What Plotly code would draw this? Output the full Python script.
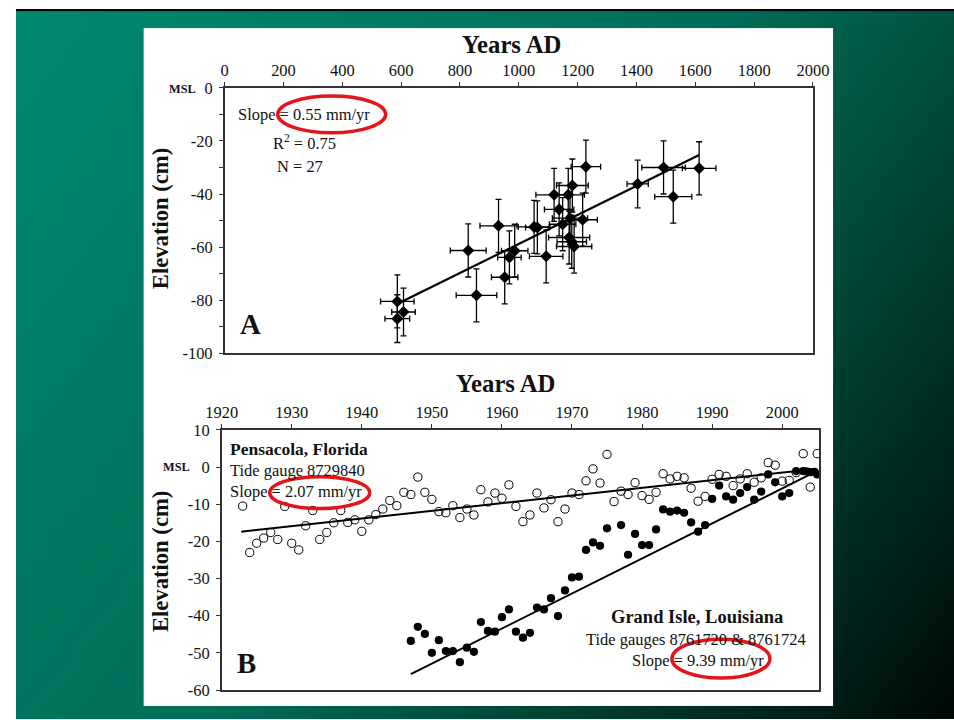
import base64
import plotly.graph_objects as go

# The capture maps figure pixels to the 954x720 picture roughly as
#   X = (16 + x_fig) * 0.9665 ,  Y = (8 + y_fig) * 0.977
# so the layout below is expressed in picture pixels and converted.
SX, SY = 0.9665, 0.977
OX, OY = 16, 8
FW, FH = 971, 729
K = 1 / 0.972  # size compensation for fonts / markers

# ---------------- Panel A data (Years AD vs elevation, cm) ----------------
a_year = [587, 587, 608, 828, 856, 931, 952, 968, 986, 1052, 1063, 1093, 1120, 1137,
          1149, 1168, 1182, 1174, 1171, 1188, 1180, 1217, 1228, 1404, 1492, 1525, 1613]
a_elev = [-80.5, -87.0, -84.5, -61.3, -78.2, -52.0, -71.4, -63.9, -61.4, -52.4, -52.6,
          -63.5, -40.3, -45.8, -51.4, -40.3, -36.8, -49.1, -56.4, -59.8, -58.0, -49.7,
          -29.7, -36.2, -30.0, -41.0, -30.3]
a_xerr = [57, 42, 40, 61, 69, 63, 45, 40, 45, 54, 40, 57, 62, 50, 45, 55, 54, 60, 70,
          60, 50, 50, 50, 36, 74, 63, 57]
a_yerr = [10, 9, 9, 10, 10, 10, 10, 10, 10, 10, 10, 10, 10, 10, 10, 10, 10, 10, 10, 10,
          10, 10, 10, 9, 10, 10, 10]
a_fit_x = [593, 1613]
a_fit_y = [-81.1, -25.3]

a_xticks = [0, 200, 400, 600, 800, 1000, 1200, 1400, 1600, 1800, 2000]
a_yticks = [0, -20, -40, -60, -80, -100]
a_ytext = ["0", "-20", "-40", "-60", "-80", "-100"]

# ---------------- Panel B data ----------------
pen_year = list(range(1923, 2006))
pen_elev = [-10.5, -23.0, -20.5, -19.1, -17.6, -19.5, -10.6, -20.5, -22.3, -15.8,
            -11.7, -19.5, -17.6, -15.0, -11.7, -14.9, -14.2, -17.3, -14.2, -12.8,
            -11.3, -9.0, -10.4, -6.8, -7.4, -2.7, -6.8, -8.7, -12.0, -12.3,
            -10.4, -13.6, -11.3, -12.9, -6.1, -9.4, -7.0, -8.4, -4.8, -10.6,
            -14.7, -12.9, -7.0, -11.0, -8.8, -14.7, -11.3, -7.0, -7.4, -3.7,
            -0.5, -4.3, 3.4, -9.3, -6.5, -7.4, -4.2, -7.7, -8.7, -6.8,
            -1.8, -3.2, -2.5, -2.9, -5.7, -9.2, -7.9, -3.3, -2.0, -2.5,
            -5.0, -3.2, -1.8, -4.1, -2.9, 1.2, 0.5, -3.8, -3.6, -1.5,
            3.6, -5.4, 3.6]
pen_fit_x = [1922.8, 2004.8]
pen_fit_y = [-17.4, -0.5]

gi_year = [1947, 1948, 1949, 1950, 1951, 1952, 1953, 1954, 1955, 1956, 1957, 1958,
           1959, 1960, 1961, 1962, 1963, 1964, 1965, 1966, 1967, 1968, 1969, 1970,
           1971, 1972, 1973, 1974, 1975, 1977, 1978, 1979, 1980, 1981, 1982, 1983,
           1984, 1985, 1986, 1987, 1988, 1989, 1990, 1991, 1992, 1993, 1994, 1995,
           1996, 1997, 1998, 1999, 2000, 2001, 2002, 2003, 2003.5, 2004, 2004.6, 2005]
gi_elev = [-46.8, -43.0, -44.9, -50.0, -46.6, -49.5, -49.5, -52.5, -48.6, -49.7, -41.7,
           -44.1, -44.3, -40.4, -38.3, -44.3, -45.9, -44.6, -37.8, -38.3, -35.3, -40.1,
           -33.2, -29.7, -29.5, -22.3, -20.3, -21.2, -16.5, -15.6, -23.6, -18.0, -21.0,
           -21.0, -16.8, -11.4, -12.0, -11.7, -12.3, -14.9, -17.4, -15.6, -8.6, -5.0,
           -7.9, -8.8, -7.0, -5.4, -8.8, -6.6, -2.0, -4.1, -7.9, -7.0, -1.1, -1.1,
           -1.2, -1.4, -1.3, -2.0]
gi_fit_x = [1947.0, 2004.2]
gi_fit_y = [-55.7, -1.8]

b_xticks = [1920, 1930, 1940, 1950, 1960, 1970, 1980, 1990, 2000]
b_yticks = [10, 0, -10, -20, -30, -40, -50, -60]
b_ytext = ["10", "0", "-10", "-20", "-30", "-40", "-50", "-60"]

SERIF = "Liberation Serif, Times New Roman, serif"
INK = "#111111"
RED = "#E5141B"


def fx(X):
    return X / SX - OX


def fy(Y):
    return Y / SY - OY


def px(X):
    return fx(X) / FW


def py(Y):
    return 1 - fy(Y) / FH


fig = go.Figure()

# Panel A
fig.add_trace(go.Scatter(
    x=a_year, y=a_elev, mode="markers", xaxis="x", yaxis="y",
    marker=dict(symbol="diamond", size=9 * K, color="black"),
    error_x=dict(type="data", array=a_xerr, color="black", thickness=1.3, width=3),
    error_y=dict(type="data", array=a_yerr, color="black", thickness=1.3, width=3),
    showlegend=False, hoverinfo="x+y"))
fig.add_trace(go.Scatter(
    x=a_fit_x, y=a_fit_y, mode="lines", xaxis="x", yaxis="y",
    line=dict(color="black", width=2.2), showlegend=False, hoverinfo="skip"))

# Panel B
fig.add_trace(go.Scatter(
    x=pen_fit_x, y=pen_fit_y, mode="lines", xaxis="x2", yaxis="y2",
    line=dict(color="black", width=2), showlegend=False, hoverinfo="skip"))
fig.add_trace(go.Scatter(
    x=gi_fit_x, y=gi_fit_y, mode="lines", xaxis="x2", yaxis="y2",
    line=dict(color="black", width=2), showlegend=False, hoverinfo="skip"))
fig.add_trace(go.Scatter(
    x=pen_year, y=pen_elev, mode="markers", xaxis="x2", yaxis="y2",
    marker=dict(symbol="circle-open", size=8 * K, color="black", line=dict(width=1)),
    showlegend=False, name="Pensacola"))
fig.add_trace(go.Scatter(
    x=gi_year, y=gi_elev, mode="markers", xaxis="x2", yaxis="y2",
    marker=dict(symbol="circle", size=8 * K, color="black"),
    showlegend=False, name="Grand Isle"))

axis_common = dict(showgrid=False, zeroline=False, showline=True, mirror=True,
                   linecolor="#333333", linewidth=1.5, ticks="outside", ticklen=4,
                   tickcolor="#333333", tickwidth=1.2,
                   tickfont=dict(family=SERIF, size=16 * K, color=INK))

fig.update_layout(
    width=FW, height=FH,
    margin=dict(l=0, r=0, t=0, b=0),
    paper_bgcolor="white", plot_bgcolor="rgba(0,0,0,0)",
    xaxis=dict(domain=[px(224), px(812)], range=[0, 2000], side="top", anchor="y",
               tickvals=a_xticks, **axis_common),
    yaxis=dict(domain=[py(353), py(87)], range=[-100, 0], anchor="x",
               tickvals=a_yticks, ticktext=a_ytext, ticklabelstandoff=3,
               minor=dict(dtick=10, ticks="outside", ticklen=4, tickcolor="#333333"),
               **axis_common),
    xaxis2=dict(domain=[px(221), px(818)], range=[1920, 2005.25], side="top",
                anchor="y2", tickvals=b_xticks, **axis_common),
    yaxis2=dict(domain=[py(691), py(430)], range=[-60, 10], anchor="x2",
                tickvals=b_yticks, ticktext=b_ytext, ticklabelstandoff=3,
                **axis_common),
)

# Slide background (gradient, top frame line, white inset) as an SVG image
gx1, gy1, gx2, gy2 = fx(0), fy(0), fx(954), fy(720)
ix0, iy0, ix1, iy1 = fx(143), fy(27), fx(832), fy(707)
svg = f'''<svg xmlns="http://www.w3.org/2000/svg" width="{FW}" height="{FH}" viewBox="0 0 {FW} {FH}" preserveAspectRatio="none">
<defs><linearGradient id="g" gradientUnits="userSpaceOnUse" x1="{gx1:.1f}" y1="{gy1:.1f}" x2="{gx2:.1f}" y2="{gy2:.1f}">
<stop offset="0" stop-color="#008A70"/>
<stop offset="0.5" stop-color="#006D58"/>
<stop offset="0.75" stop-color="#003E30"/>
<stop offset="1" stop-color="#000806"/>
</linearGradient></defs>
<rect width="{FW}" height="{FH}" fill="url(#g)"/>
<rect x="0" y="0" width="{FW}" height="{fy(10):.1f}" fill="#050505"/>
<rect x="{ix0:.1f}" y="{iy0:.1f}" width="{ix1 - ix0:.1f}" height="{iy1 - iy0:.1f}" fill="#ffffff"/>
</svg>'''
src = "data:image/svg+xml;base64," + base64.b64encode(svg.encode()).decode()
fig.add_layout_image(dict(source=src, xref="paper", yref="paper", x=0, y=1,
                          sizex=1, sizey=1, xanchor="left", yanchor="top",
                          sizing="stretch", layer="below"))


def note(text, x, y, size=16, bold=False, anchor="center", angle=0):
    fig.add_annotation(
        text=f"<b>{text}</b>" if bold else text,
        xref="paper", yref="paper", x=px(x), y=py(y),
        xanchor=anchor, yanchor="middle", showarrow=False, textangle=angle,
        font=dict(family=SERIF, size=size * K, color=INK))


note("Years AD", 511, 43, 24, True)
note("Years AD", 505, 383, 24, True)
note("Elevation (cm)", 160, 218, 22, True, angle=-90)
note("Elevation (cm)", 160, 562, 22, True, angle=-90)
note("MSL", 182, 88, 12, True)
note("MSL", 176, 467, 12, True)

note("Slope = 0.55 mm/yr", 303, 114, 16)
note("R<sup>2</sup> = 0.75", 304, 142, 16)
note("N = 27", 299, 166, 16)
note("A", 250, 324, 28, True)

note("Pensacola, Florida", 227, 449, 17, True, anchor="left")
note("Tide gauge 8729840", 227, 471, 16, anchor="left")
note("Slope = 2.07 mm/yr", 227, 492, 16, anchor="left")
note("B", 246, 664, 28, True)

note("Grand Isle, Louisiana", 696, 618, 18, True)
note("Tide gauges 8761720 &amp; 8761724", 695, 640, 16)
note("Slope = 9.39 mm/yr", 697, 661, 16)

for (x0, y0, x1, y1) in [(277, 95, 385, 132), (269, 477, 369, 509), (671, 640, 769, 679)]:
    fig.add_shape(type="circle", xref="paper", yref="paper",
                  x0=px(x0), x1=px(x1), y0=py(y1), y1=py(y0),
                  line=dict(color=RED, width=3.5), layer="above")

fig.write_html("out.html", config={"displayModeBar": False})
